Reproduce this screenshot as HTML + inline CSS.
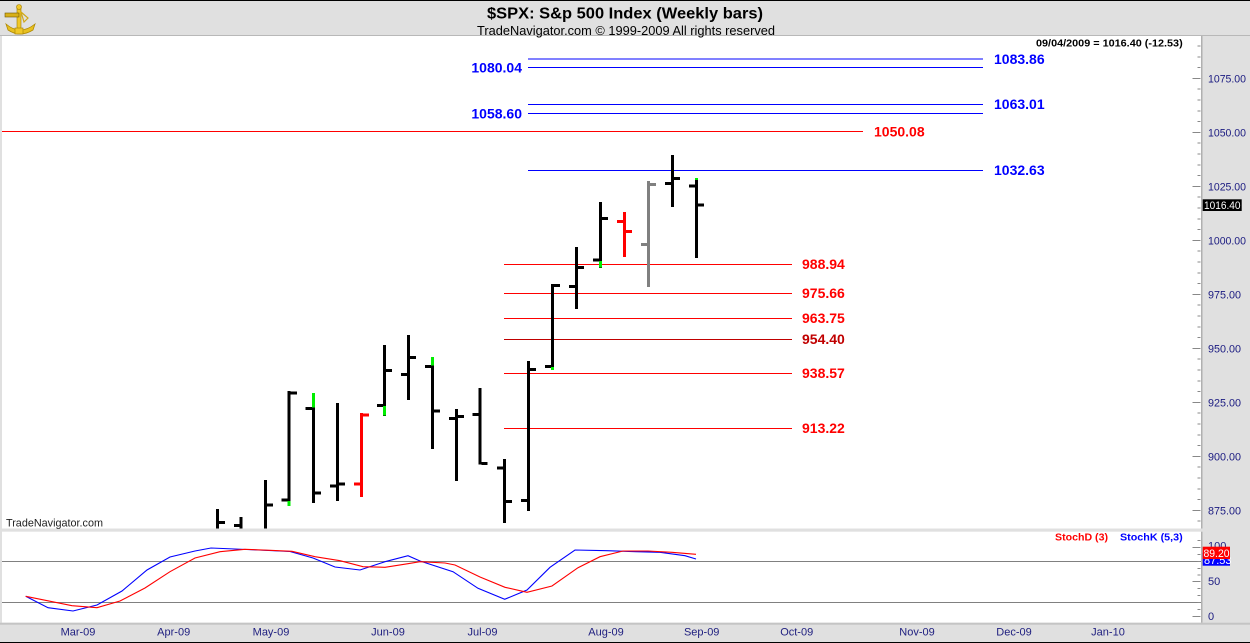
<!DOCTYPE html>
<html>
<head>
<meta charset="utf-8">
<style>
html,body{margin:0;padding:0;background:#e0e0e0;}
svg{display:block;}
text{font-family:"Liberation Sans",Arial,sans-serif;}
</style>
</head>
<body>
<svg width="1250" height="643" viewBox="0 0 1250 643" xmlns="http://www.w3.org/2000/svg" xml:space="preserve">
<!-- background -->
<rect x="0" y="0" width="1250" height="643" fill="#e0e0e0"/>
<rect x="0" y="0" width="1250" height="1" fill="#000"/>
<rect x="0" y="642" width="1250" height="1" fill="#000"/>
<!-- header divider -->
<rect x="0" y="35" width="1250" height="1" fill="#b8b8b8"/>
<!-- main panel -->
<rect x="2" y="36" width="1199" height="492.5" fill="#fff"/>
<rect x="1201" y="36" width="1.5" height="492.5" fill="#b0b0b0"/>
<!-- stoch panel -->
<rect x="2" y="531.7" width="1199" height="91" fill="#fff"/>
<rect x="1201" y="531.7" width="1.5" height="91" fill="#b0b0b0"/>
<rect x="0" y="622.7" width="1250" height="2" fill="#c4c4c4"/>

<!-- logo -->
<g>
  <path d="M6 24 Q20 36 35 24 L33 30 Q20 38 8 30 Z" fill="#e8c020" stroke="#b08a00" stroke-width="0.8"/>
  <rect x="17" y="8" width="4" height="24" fill="#f0c828" stroke="#a07c00" stroke-width="0.6"/>
  <rect x="5" y="13" width="14" height="4" fill="#d8b018" stroke="#705800" stroke-width="0.6"/>
  <circle cx="19" cy="7" r="2.5" fill="#f0c828" stroke="#a07c00" stroke-width="0.6"/>
  <path d="M21 12 L28 18 L24 22 Z" fill="none" stroke="#d0a818" stroke-width="1.2"/>
  <rect x="15" y="28" width="8" height="6" fill="#f0c828" stroke="#a07c00" stroke-width="0.6"/>
</g>

<!-- title -->
<text x="625" y="18.5" font-size="16" font-weight="bold" text-anchor="middle" textLength="276" lengthAdjust="spacingAndGlyphs" fill="#000">$SPX:  S&amp;p 500 Index  (Weekly bars)</text>
<text x="626" y="35" font-size="13" text-anchor="middle" textLength="298" lengthAdjust="spacingAndGlyphs" fill="#000">TradeNavigator.com © 1999-2009 All rights reserved</text>
<text x="1036" y="46.7" font-size="10" font-weight="bold" textLength="146.7" lengthAdjust="spacingAndGlyphs" fill="#000">09/04/2009 = 1016.40 (-12.53)</text>

<!-- right axis ticks main -->
<g fill="#888" shape-rendering="crispEdges">
<rect x="1197.7" y="45.5" width="3" height="1"/>
<rect x="1197.7" y="56.3" width="3" height="1"/>
<rect x="1197.7" y="67.1" width="3" height="1"/>
<rect x="1192.7" y="77.9" width="8" height="1"/>
<rect x="1197.7" y="88.7" width="3" height="1"/>
<rect x="1197.7" y="99.5" width="3" height="1"/>
<rect x="1197.7" y="110.3" width="3" height="1"/>
<rect x="1197.7" y="121.1" width="3" height="1"/>
<rect x="1192.7" y="131.9" width="8" height="1"/>
<rect x="1197.7" y="142.7" width="3" height="1"/>
<rect x="1197.7" y="153.5" width="3" height="1"/>
<rect x="1197.7" y="164.3" width="3" height="1"/>
<rect x="1197.7" y="175.1" width="3" height="1"/>
<rect x="1192.7" y="185.9" width="8" height="1"/>
<rect x="1197.7" y="196.7" width="3" height="1"/>
<rect x="1197.7" y="207.5" width="3" height="1"/>
<rect x="1197.7" y="218.3" width="3" height="1"/>
<rect x="1197.7" y="229.1" width="3" height="1"/>
<rect x="1192.7" y="239.9" width="8" height="1"/>
<rect x="1197.7" y="250.7" width="3" height="1"/>
<rect x="1197.7" y="261.5" width="3" height="1"/>
<rect x="1197.7" y="272.3" width="3" height="1"/>
<rect x="1197.7" y="283.1" width="3" height="1"/>
<rect x="1192.7" y="293.9" width="8" height="1"/>
<rect x="1197.7" y="304.7" width="3" height="1"/>
<rect x="1197.7" y="315.5" width="3" height="1"/>
<rect x="1197.7" y="326.3" width="3" height="1"/>
<rect x="1197.7" y="337.1" width="3" height="1"/>
<rect x="1192.7" y="347.9" width="8" height="1"/>
<rect x="1197.7" y="358.7" width="3" height="1"/>
<rect x="1197.7" y="369.5" width="3" height="1"/>
<rect x="1197.7" y="380.3" width="3" height="1"/>
<rect x="1197.7" y="391.1" width="3" height="1"/>
<rect x="1192.7" y="401.9" width="8" height="1"/>
<rect x="1197.7" y="412.7" width="3" height="1"/>
<rect x="1197.7" y="423.5" width="3" height="1"/>
<rect x="1197.7" y="434.3" width="3" height="1"/>
<rect x="1197.7" y="445.1" width="3" height="1"/>
<rect x="1192.7" y="455.9" width="8" height="1"/>
<rect x="1197.7" y="466.7" width="3" height="1"/>
<rect x="1197.7" y="477.5" width="3" height="1"/>
<rect x="1197.7" y="488.3" width="3" height="1"/>
<rect x="1197.7" y="499.1" width="3" height="1"/>
<rect x="1192.7" y="509.9" width="8" height="1"/>
<rect x="1197.7" y="520.7" width="3" height="1"/>
</g>
<g font-size="11" fill="#1a1a80">
<text x="1208" y="82.3" textLength="38" lengthAdjust="spacingAndGlyphs">1075.00</text>
<text x="1208" y="136.3" textLength="38" lengthAdjust="spacingAndGlyphs">1050.00</text>
<text x="1208" y="190.3" textLength="38" lengthAdjust="spacingAndGlyphs">1025.00</text>
<text x="1208" y="244.3" textLength="38" lengthAdjust="spacingAndGlyphs">1000.00</text>
<text x="1208" y="298.3" textLength="33" lengthAdjust="spacingAndGlyphs">975.00</text>
<text x="1208" y="352.3" textLength="33" lengthAdjust="spacingAndGlyphs">950.00</text>
<text x="1208" y="406.3" textLength="33" lengthAdjust="spacingAndGlyphs">925.00</text>
<text x="1208" y="460.3" textLength="33" lengthAdjust="spacingAndGlyphs">900.00</text>
<text x="1208" y="514.3" textLength="33" lengthAdjust="spacingAndGlyphs">875.00</text>
</g>
<!-- last price box -->
<rect x="1202.7" y="199.3" width="39" height="11.7" fill="#000"/>
<text x="1204" y="209" font-size="11" fill="#fff" textLength="36.5" lengthAdjust="spacingAndGlyphs">1016.40</text>

<!-- horizontal level lines -->
<g shape-rendering="crispEdges">
<rect x="528" y="58.5" width="455" height="1" fill="#0000ff"/>
<rect x="528" y="66.8" width="455" height="1" fill="#0000ff"/>
<rect x="528" y="103.8" width="455" height="1" fill="#0000ff"/>
<rect x="528" y="112.8" width="455" height="1" fill="#0000ff"/>
<rect x="2" y="131" width="861" height="1" fill="#ff0000"/>
<rect x="528" y="169.8" width="455" height="1" fill="#0000ff"/>
<rect x="504" y="263.8" width="288" height="1" fill="#ff0000"/>
<rect x="504" y="292.8" width="288" height="1" fill="#ff0000"/>
<rect x="504" y="317.8" width="288" height="1" fill="#ff0000"/>
<rect x="504" y="338.8" width="288" height="1" fill="#c00000"/>
<rect x="504" y="372.8" width="288" height="1" fill="#ff0000"/>
<rect x="504" y="427.8" width="288" height="1" fill="#ff0000"/>
</g>
<g font-size="14" font-weight="bold">
<text x="994" y="64" fill="#0000ff">1083.86</text>
<text x="522" y="72.5" fill="#0000ff" text-anchor="end">1080.04</text>
<text x="994" y="109" fill="#0000ff">1063.01</text>
<text x="522" y="118.5" fill="#0000ff" text-anchor="end">1058.60</text>
<text x="874" y="136.5" fill="#ff0000">1050.08</text>
<text x="994" y="175" fill="#0000ff">1032.63</text>
<text x="802" y="269" fill="#ff0000">988.94</text>
<text x="802" y="298" fill="#ff0000">975.66</text>
<text x="802" y="323" fill="#ff0000">963.75</text>
<text x="802" y="344" fill="#c00000">954.40</text>
<text x="802" y="378" fill="#ff0000">938.57</text>
<text x="802" y="433" fill="#ff0000">913.22</text>
</g>

<!-- price bars -->
<svg x="0" y="36" width="1201" height="492.5" viewBox="0 36 1201 492.5" overflow="hidden">
<g shape-rendering="crispEdges">
<!-- A -->
<rect x="216" y="509" width="3" height="25" fill="#000"/>
<rect x="219" y="521" width="6" height="3" fill="#000"/>
<!-- B -->
<rect x="239.5" y="517" width="3" height="20" fill="#000"/>
<rect x="234" y="524" width="5.5" height="3" fill="#000"/>
<!-- C -->
<rect x="264" y="480" width="3" height="55" fill="#000"/>
<rect x="267" y="503.5" width="6" height="3" fill="#000"/>
<!-- D -->
<rect x="287.5" y="391" width="3" height="115" fill="#000"/>
<rect x="287.5" y="501" width="3" height="5" fill="#00ee00"/>
<rect x="281.5" y="498.5" width="6" height="3" fill="#000"/>
<rect x="290.5" y="391.5" width="6.5" height="3" fill="#000"/>
<!-- E -->
<rect x="312" y="393" width="3" height="110" fill="#000"/>
<rect x="312" y="393" width="3" height="14.5" fill="#00ee00"/>
<rect x="305.5" y="407" width="6.5" height="3" fill="#000"/>
<rect x="315" y="491.5" width="6" height="3" fill="#000"/>
<!-- F -->
<rect x="336" y="403" width="3" height="98" fill="#000"/>
<rect x="330" y="484.5" width="6" height="3" fill="#000"/>
<rect x="339" y="482.5" width="6" height="3" fill="#000"/>
<!-- G red -->
<rect x="360" y="413" width="3" height="84" fill="#ff0000"/>
<rect x="354" y="482.5" width="6" height="3" fill="#ff0000"/>
<rect x="363" y="413.5" width="6" height="3" fill="#ff0000"/>
<!-- H -->
<rect x="383" y="345" width="3" height="71" fill="#000"/>
<rect x="383" y="406" width="3" height="9.7" fill="#00ee00"/>
<rect x="377" y="404" width="6" height="3" fill="#000"/>
<rect x="386" y="369" width="6" height="3" fill="#000"/>
<!-- I -->
<rect x="407" y="335" width="3" height="65" fill="#000"/>
<rect x="401" y="373" width="6" height="3" fill="#000"/>
<rect x="410" y="356" width="6" height="3" fill="#000"/>
<!-- J -->
<rect x="431" y="357" width="3" height="92" fill="#000"/>
<rect x="431" y="357" width="3" height="8.5" fill="#00ee00"/>
<rect x="425" y="365" width="6" height="3" fill="#000"/>
<rect x="434" y="409.5" width="6" height="3" fill="#000"/>
<!-- K -->
<rect x="455" y="409" width="3" height="72" fill="#000"/>
<rect x="449" y="417" width="6" height="3" fill="#000"/>
<rect x="458" y="415" width="6" height="3" fill="#000"/>
<!-- L -->
<rect x="478.5" y="388" width="3" height="76.5" fill="#000"/>
<rect x="472.5" y="413" width="6" height="3" fill="#000"/>
<rect x="481.5" y="462" width="6" height="3" fill="#000"/>
<!-- M -->
<rect x="503" y="459" width="3" height="64" fill="#000"/>
<rect x="497" y="466.5" width="6" height="3" fill="#000"/>
<rect x="506" y="500" width="6" height="3" fill="#000"/>
<!-- N -->
<rect x="527" y="361" width="3" height="150" fill="#000"/>
<rect x="521" y="499" width="6" height="3" fill="#000"/>
<rect x="530" y="368" width="6" height="3" fill="#000"/>
<!-- O -->
<rect x="551" y="284" width="3" height="86" fill="#000"/>
<rect x="551" y="367" width="3" height="3" fill="#00ee00"/>
<rect x="545" y="365" width="6" height="3" fill="#000"/>
<rect x="554" y="284" width="6" height="3" fill="#000"/>
<!-- P -->
<rect x="575" y="247" width="3" height="62" fill="#000"/>
<rect x="569" y="285" width="6" height="3" fill="#000"/>
<rect x="578" y="266" width="6" height="3" fill="#000"/>
<!-- Q -->
<rect x="599" y="202" width="3" height="66" fill="#000"/>
<rect x="599" y="261" width="3" height="6.7" fill="#00ee00"/>
<rect x="593" y="258.5" width="6" height="3" fill="#000"/>
<rect x="602" y="217" width="6" height="3" fill="#000"/>
<!-- R red -->
<rect x="623" y="212" width="3" height="45" fill="#ff0000"/>
<rect x="617" y="220" width="6" height="3" fill="#ff0000"/>
<rect x="626" y="230" width="6" height="3" fill="#ff0000"/>
<!-- S gray -->
<rect x="647" y="181" width="3" height="106" fill="#808080"/>
<rect x="641" y="243" width="6" height="3" fill="#808080"/>
<rect x="650" y="183" width="6" height="3" fill="#808080"/>
<!-- T -->
<rect x="671" y="155" width="3" height="52" fill="#000"/>
<rect x="665" y="182" width="6" height="3" fill="#000"/>
<rect x="674" y="177" width="6" height="3" fill="#000"/>
<!-- U -->
<rect x="695" y="178" width="3" height="80" fill="#000"/>
<rect x="695" y="178" width="3" height="2" fill="#00ee00"/>
<rect x="689" y="184.5" width="6" height="3" fill="#000"/>
<rect x="698" y="203.5" width="6" height="3" fill="#000"/>
</g>
</svg>

<text x="6" y="526.7" font-size="11" fill="#222" textLength="97" lengthAdjust="spacingAndGlyphs">TradeNavigator.com</text>

<!-- stoch panel -->
<g shape-rendering="crispEdges" fill="#808080">
<rect x="2" y="561" width="1199" height="1"/>
<rect x="2" y="602" width="1199" height="1"/>
</g>
<text x="1055" y="540.7" font-size="10.5" font-weight="bold" fill="#ff0000" textLength="53" lengthAdjust="spacingAndGlyphs">StochD (3)</text>
<text x="1120" y="540.7" font-size="10.5" font-weight="bold" fill="#0000ff" textLength="62.7" lengthAdjust="spacingAndGlyphs">StochK (5,3)</text>
<polyline fill="none" stroke="#0000ff" stroke-width="1.1" points="25.7,596.3 48,607.7 73,611 97,605 122,591 147,570 170,557 195,551 211,548 235,549 258,550 290,551.5 313,558 335,567 360,570 385,561.7 408,555.7 420,561 453,571.7 478,588.3 504.7,599.3 527,590 550,567.3 575,550 607,550.7 636,551.7 660,552.3 685,555.7 696,559"/>
<polyline fill="none" stroke="#ff0000" stroke-width="1.1" points="25.7,596.3 72,605.7 97,607.7 120,601 145,588 170,571.7 195,558 220,551.7 245,549.3 270,550.3 292,551.3 315,556.7 340,560.7 363,566.7 385,567.3 408,563.7 420,561.7 445,563 455,565 480,577 505,587.3 527,592.3 552,586 578,567.7 600,556.7 623,551 648,551 672,552.3 696,554.3"/>
<!-- stoch axis ticks -->
<g fill="#888" shape-rendering="crispEdges">
<rect x="1197.7" y="540" width="3" height="1"/>
<rect x="1192.7" y="547" width="8" height="1"/>
<rect x="1197.7" y="554" width="3" height="1"/>
<rect x="1197.7" y="561" width="3" height="1"/>
<rect x="1197.7" y="567.8" width="3" height="1"/>
<rect x="1197.7" y="574.5" width="3" height="1"/>
<rect x="1192.7" y="581" width="8" height="1"/>
<rect x="1197.7" y="588" width="3" height="1"/>
<rect x="1197.7" y="595" width="3" height="1"/>
<rect x="1197.7" y="602" width="3" height="1"/>
<rect x="1197.7" y="609" width="3" height="1"/>
<rect x="1192.7" y="616" width="8" height="1"/>
</g>
<g font-size="11" fill="#1a1a80">
<text x="1208" y="549.5">100</text>
<text x="1208" y="585">50</text>
<text x="1208" y="620">0</text>
</g>
<rect x="1202.7" y="553" width="27.3" height="12.7" fill="#0000ff"/>
<text x="1204" y="564" font-size="11" fill="#fff">87.53</text>
<rect x="1202.7" y="546.7" width="27.3" height="12.3" fill="#ff0000"/>
<text x="1203.5" y="557" font-size="11" fill="#fff" textLength="26" lengthAdjust="spacingAndGlyphs">89.20</text>

<!-- x axis labels -->
<g font-size="11" fill="#202080" text-anchor="middle">
<text x="78" y="635.7">Mar-09</text>
<text x="173.7" y="635.7">Apr-09</text>
<text x="271" y="635.7">May-09</text>
<text x="388" y="635.7">Jun-09</text>
<text x="482.5" y="635.7">Jul-09</text>
<text x="606" y="635.7">Aug-09</text>
<text x="701.7" y="635.7">Sep-09</text>
<text x="796.7" y="635.7">Oct-09</text>
<text x="917" y="635.7">Nov-09</text>
<text x="1014" y="635.7">Dec-09</text>
<text x="1108" y="635.7">Jan-10</text>
</g>
</svg>
</body>
</html>
